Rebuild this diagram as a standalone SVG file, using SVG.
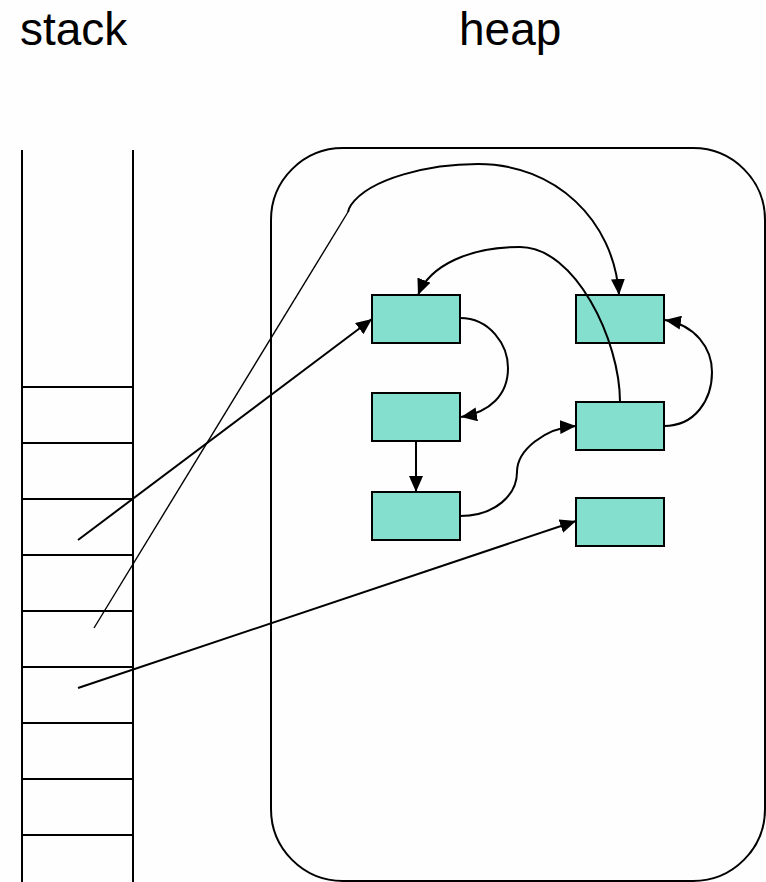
<svg xmlns="http://www.w3.org/2000/svg" width="766" height="882" viewBox="0 0 766 882">
<defs>
<marker id="ah" viewBox="0 0 16 14" refX="16" refY="7" markerWidth="16" markerHeight="14" markerUnits="userSpaceOnUse" orient="auto">
<path d="M0,0 L16,7 L0,14 z" fill="#000"/>
</marker>
<style>
.lbl{font-family:"Liberation Sans",Arial,sans-serif;font-size:46px;fill:#000}
.st{stroke:#000;stroke-width:2;fill:none}
.box{fill:#85dfcf;stroke:#000;stroke-width:2}
.con{stroke:#000;stroke-width:2;fill:none;marker-end:url(#ah)}
.thin{stroke:#000;stroke-width:1.4;fill:none}
</style>
</defs>
<rect x="0" y="0" width="766" height="882" fill="#fefefe"/>
<text class="lbl" x="20" y="45">stack</text>
<text class="lbl" x="459" y="45">heap</text>
<g id="stack">
<line class="st" x1="22" y1="150" x2="22" y2="882"/>
<line class="st" x1="133" y1="150" x2="133" y2="882"/>
<line class="st" x1="22" y1="387" x2="133" y2="387"/>
<line class="st" x1="22" y1="443" x2="133" y2="443"/>
<line class="st" x1="22" y1="499" x2="133" y2="499"/>
<line class="st" x1="22" y1="555" x2="133" y2="555"/>
<line class="st" x1="22" y1="611" x2="133" y2="611"/>
<line class="st" x1="22" y1="667" x2="133" y2="667"/>
<line class="st" x1="22" y1="723" x2="133" y2="723"/>
<line class="st" x1="22" y1="779" x2="133" y2="779"/>
<line class="st" x1="22" y1="835" x2="133" y2="835"/>
</g>
<g id="heap">
<rect class="st" x="271" y="148" width="494" height="733" rx="72" ry="72"/>
</g>
<g id="n1"><rect class="box" x="372" y="295" width="88" height="48"/></g>
<g id="n2"><rect class="box" x="372" y="393" width="88" height="48"/></g>
<g id="n3"><rect class="box" x="372" y="492" width="88" height="48"/></g>
<g id="n4"><rect class="box" x="576" y="295" width="88" height="48"/></g>
<g id="n5"><rect class="box" x="576" y="402" width="88" height="48"/></g>
<g id="n6"><rect class="box" x="576" y="498" width="88" height="48"/></g>
<g id="connectors">
<path class="con" d="M78,540 L372,319"/>
<path class="thin" d="M94,628 L348,212"/>
<path class="con" d="M348,212 Q349,208 351,205 C370,178 430,164 478,164 C555,164 614,220 619,295"/>
<path class="con" d="M620,402 C620,340 575,247 520,247 C470,247 430,265 418,295"/>
<path class="con" d="M460,318 C490,318 508,345 508,368 C508,395 490,412 461,417"/>
<path class="con" d="M416,441 L416,492"/>
<path class="con" d="M460,516 C495,516 517,495 517,472 C517,450 545,428 576,426"/>
<path class="con" d="M664,426 C695,426 712,400 712,372 C712,348 695,325 665,320"/>
<path class="con" d="M78,688 L576,521"/>
</g>
</svg>
